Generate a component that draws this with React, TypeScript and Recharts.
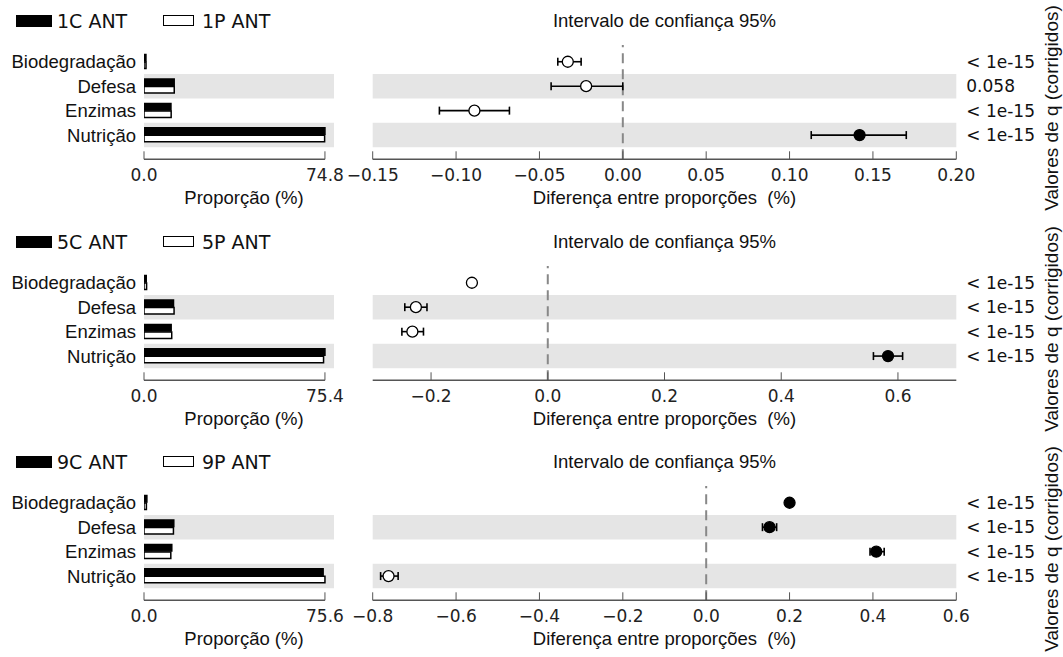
import React from "react";
import {
  BarChart,
  Bar,
  ComposedChart,
  Scatter,
  ErrorBar,
  XAxis,
  YAxis,
  ReferenceArea,
  ReferenceLine,
} from "recharts";

const CATEGORIES = ["Biodegradação", "Defesa", "Enzimas", "Nutrição"];

// painel 1
const LEGEND_1 = ["1C ANT", "1P ANT"];
const PROP_C_1 = [0.8, 12.48, 11.14, 74.8];
const PROP_P_1 = [0.83, 12.5, 11.23, 74.66];
const DIFF_1 = [-0.033, -0.022, -0.089, 0.142];
const CI_LOW_1 = [-0.039, -0.043, -0.11, 0.113];
const CI_HIGH_1 = [-0.025, 0.0, -0.068, 0.17];
const Q_1 = ["< 1e-15", "0.058", "< 1e-15", "< 1e-15"];
const DOMAIN_1 = [-0.15, 0.2];
const TICKS_1 = [-0.15, -0.1, -0.05, 0, 0.05, 0.1, 0.15, 0.2];

// painel 2
const LEGEND_2 = ["5C ANT", "5P ANT"];
const PROP_C_2 = [0.95, 12.3, 11.32, 75.4];
const PROP_P_2 = [1.08, 12.53, 11.55, 74.82];
const DIFF_2 = [-0.13, -0.226, -0.232, 0.583];
const CI_LOW_2 = [-0.134, -0.245, -0.25, 0.558];
const CI_HIGH_2 = [-0.126, -0.207, -0.213, 0.608];
const Q_2 = ["< 1e-15", "< 1e-15", "< 1e-15", "< 1e-15"];
const DOMAIN_2 = [-0.3, 0.7];
const TICKS_2 = [-0.2, 0, 0.2, 0.4, 0.6];

// painel 3
const LEGEND_3 = ["9C ANT", "9P ANT"];
const PROP_C_3 = [1.2, 12.45, 11.61, 74.84];
const PROP_P_3 = [1.0, 12.3, 11.2, 75.6];
const DIFF_3 = [0.2, 0.152, 0.408, -0.762];
const CI_LOW_3 = [0.196, 0.135, 0.393, -0.781];
const CI_HIGH_3 = [0.204, 0.169, 0.427, -0.739];
const Q_3 = ["< 1e-15", "< 1e-15", "< 1e-15", "< 1e-15"];
const DOMAIN_3 = [-0.8, 0.6];
const TICKS_3 = [-0.8, -0.6, -0.4, -0.2, 0, 0.2, 0.4, 0.6];

const BAND = "#e5e5e5";
const AXIS = "#555";
const SANS = "Liberation Sans, Arial, sans-serif";
const DEJAVU = "DejaVu Sans, sans-serif";

const CHART_H = 220;
const TOP = 45;
const PAD = { top: 4.5, bottom: 12 };
const XAXIS_H = 60.7;
const LEFT_W = 344;
const LEFT_YAXIS_W = 144;
const LEFT_PLOT_W = LEFT_W - LEFT_YAXIS_W - 10;

const fmt = (v: number, d: number) => (v < 0 ? "\u2212" + Math.abs(v).toFixed(d) : v.toFixed(d));

function Dot(props: any) {
  const { cx, cy, payload } = props;
  if (cx == null || cy == null) return null;
  const up = payload.diff > 0;
  return <circle cx={cx} cy={cy} r={5.5} fill={up ? "#000" : "#fff"} stroke="#000" strokeWidth={1.3} />;
}

function Panel({
  top,
  legend,
  c,
  p,
  diff,
  lo,
  hi,
  q,
  domain,
  ticks,
  decimals,
}: {
  top: number;
  legend: string[];
  c: number[];
  p: number[];
  diff: number[];
  lo: number[];
  hi: number[];
  q: string[];
  domain: number[];
  ticks: number[];
  decimals: number;
}) {
  const rows = CATEGORIES.map((name, i) => ({
    name,
    idx: i,
    c: c[i],
    p: p[i],
    diff: diff[i],
    err: [diff[i] - lo[i], hi[i] - diff[i]],
  }));
  const max = Math.max(...c, ...p);
  const idxs = CATEGORIES.map((_, i) => i);
  const banded = idxs.filter((i) => i % 2 === 1);

  return (
    <div style={{ position: "absolute", left: 0, top, width: 1063, height: CHART_H }}>
      {/* legenda */}
      <div style={{ position: "absolute", left: 16, top: 15, width: 36, height: 12, background: "#000" }} />
      <div style={{ position: "absolute", left: 57, top: 10, fontFamily: DEJAVU, fontSize: 19, lineHeight: "22px", color: "#111" }}>
        {legend[0]}
      </div>
      <div style={{ position: "absolute", left: 163, top: 15, width: 29, height: 9, border: "1.5px solid #000", background: "#fff" }} />
      <div style={{ position: "absolute", left: 202, top: 10, fontFamily: DEJAVU, fontSize: 19, lineHeight: "22px", color: "#111" }}>
        {legend[1]}
      </div>

      <div style={{ position: "absolute", left: 0, top: 0 }}>
        <BarChart
          width={LEFT_W}
          height={CHART_H}
          data={rows}
          layout="vertical"
          margin={{ top: TOP, right: 10, left: 0, bottom: 0 }}
          barSize={6.5}
          barGap={1}
        >
          {banded.map((i) => (
            <ReferenceArea key={i} y1={CATEGORIES[i]} y2={CATEGORIES[i]} fill={BAND} fillOpacity={1} stroke="none" />
          ))}
          <YAxis
            type="category"
            dataKey="name"
            width={LEFT_YAXIS_W}
            padding={PAD}
            axisLine={false}
            tickLine={false}
            tickSize={0}
            tickMargin={8}
            interval={0}
            tick={{ fontFamily: SANS, fontSize: 18.5, fill: "#111" }}
          />
          <XAxis
            type="number"
            domain={[0, max * 1.05]}
            ticks={[0, max]}
            tickFormatter={(v: number) => v.toFixed(1)}
            height={XAXIS_H}
            axisLine={{ stroke: AXIS, strokeWidth: 1.5, strokeDasharray: `${LEFT_PLOT_W / 1.05} 1000` }}
            tickLine={{ stroke: AXIS }}
            tickSize={-8}
            tickMargin={17.5}
            interval={0}
            tick={{ fontFamily: DEJAVU, fontSize: 17, fill: "#222" }}
            allowDataOverflow
          />
          <Bar dataKey="c" fill="#000" stroke="#000" strokeWidth={1.5} isAnimationActive={false} />
          <Bar dataKey="p" fill="#fff" stroke="#000" strokeWidth={1.5} isAnimationActive={false} />
        </BarChart>
      </div>

      <div style={{ position: "absolute", left: 300, top: 0 }}>
        <ComposedChart
          width={763}
          height={CHART_H}
          data={rows}
          margin={{ top: TOP, right: 6.7, left: 72.7, bottom: 0 }}
        >
          {banded.map((i) => (
            <ReferenceArea key={i} y1={i - 0.5} y2={i + 0.5} fill={BAND} fillOpacity={1} stroke="none" />
          ))}
          <XAxis
            type="number"
            dataKey="diff"
            domain={domain}
            ticks={ticks}
            tickFormatter={(v: number) => fmt(v, decimals)}
            height={XAXIS_H}
            axisLine={{ stroke: AXIS, strokeWidth: 1.5 }}
            tickLine={{ stroke: AXIS }}
            tickSize={-8}
            tickMargin={17.5}
            tick={{ fontFamily: DEJAVU, fontSize: 17, fill: "#222" }}
            allowDataOverflow
            interval={0}
          />
          <YAxis
            type="number"
            dataKey="idx"
            orientation="right"
            domain={[-0.5, idxs.length - 0.5]}
            ticks={idxs}
            reversed
            width={100}
            padding={PAD}
            axisLine={false}
            tickLine={false}
            tickSize={0}
            tickMargin={10}
            interval={0}
            allowDataOverflow
            tickFormatter={(v: number) => q[v]}
            tick={{ fontFamily: DEJAVU, fontSize: 17, fill: "#111" }}
          />
          <ReferenceLine x={0} stroke="#888" strokeWidth={2} strokeDasharray="10 6" />
          <Scatter dataKey="diff" shape={<Dot />} isAnimationActive={false}>
            <ErrorBar dataKey="err" direction="x" width={4} stroke="#000" strokeWidth={1.6} isAnimationActive={false} />
          </Scatter>
        </ComposedChart>
      </div>

      <div style={{ position: "absolute", left: 372.7, top: 10, width: 583.6, textAlign: "center", fontFamily: SANS, fontSize: 18.5, lineHeight: "22px", color: "#111" }}>
        Intervalo de confiança 95%
      </div>
      <div style={{ position: "absolute", left: 144, top: 187, width: 200, textAlign: "center", fontFamily: SANS, fontSize: 18.5, lineHeight: "22px", color: "#111" }}>
        Proporção (%)
      </div>
      <div style={{ position: "absolute", left: 372.7, top: 187, width: 583.6, textAlign: "center", fontFamily: SANS, fontSize: 18.5, lineHeight: "22px", color: "#111", whiteSpace: "pre" }}>
        {"Diferença entre proporções  (%)"}
      </div>
      <div
        style={{
          position: "absolute",
          left: 1052 - 115,
          top: 108 - 12,
          width: 230,
          height: 24,
          lineHeight: "24px",
          textAlign: "center",
          fontFamily: SANS,
          fontSize: 19,
          color: "#111",
          transform: "rotate(-90deg)",
          whiteSpace: "nowrap",
        }}
      >
        Valores de q (corrigidos)
      </div>
    </div>
  );
}

export default function App() {
  return (
    <div style={{ position: "absolute", left: 0, top: 0, width: 1063, height: 657, background: "#fff", overflow: "hidden" }}>
      <Panel top={0} legend={LEGEND_1} c={PROP_C_1} p={PROP_P_1} diff={DIFF_1} lo={CI_LOW_1} hi={CI_HIGH_1} q={Q_1} domain={DOMAIN_1} ticks={TICKS_1} decimals={2} />
      <Panel top={221} legend={LEGEND_2} c={PROP_C_2} p={PROP_P_2} diff={DIFF_2} lo={CI_LOW_2} hi={CI_HIGH_2} q={Q_2} domain={DOMAIN_2} ticks={TICKS_2} decimals={1} />
      <Panel top={441} legend={LEGEND_3} c={PROP_C_3} p={PROP_P_3} diff={DIFF_3} lo={CI_LOW_3} hi={CI_HIGH_3} q={Q_3} domain={DOMAIN_3} ticks={TICKS_3} decimals={1} />
    </div>
  );
}
